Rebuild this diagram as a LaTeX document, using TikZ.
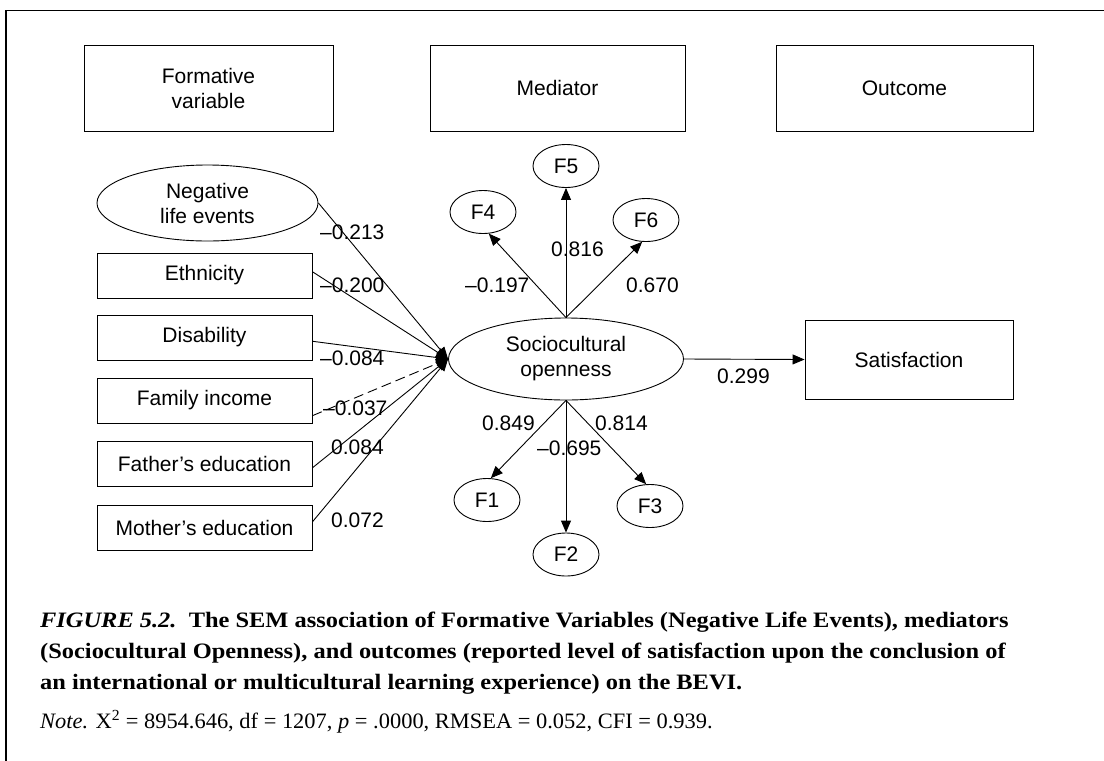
\documentclass[tikz,border=0pt]{standalone}
\usepackage{fontspec}
\setmainfont{Liberation Serif}[FakeStretch=1.02]
\newfontfamily\boldcap{Liberation Serif}[FakeStretch=1.11]
\newfontfamily\diagfont{Liberation Sans}
\usetikzlibrary{shapes.geometric,arrows.meta,calc}
\begin{document}
\begin{tikzpicture}[x=1pt,y=-1pt,
  dfont/.style={font=\diagfont\fontsize{21}{25}\selectfont},
  lbl/.style={dfont, inner sep=0, anchor=west},
  box/.style={draw, line width=0.9pt, inner sep=0, dfont, align=center},
  ell/.style={draw, ellipse, line width=0.9pt, inner sep=0, dfont, align=center},
  fell/.style={ell, minimum width=66, minimum height=43},
  arr/.style={line width=0.9pt, -{Triangle[length=12pt,width=10pt]}},
  captxt/.style={inner sep=0, anchor=base west, font=\fontsize{22}{26}\selectfont},
  boldtxt/.style={captxt, font=\boldcap\fontsize{22}{26}\selectfont\bfseries},
  ]
\useasboundingbox (0,0) rectangle (1104,761);
% frame
\draw[line width=1.5pt] (6,761) -- (6,10.5) -- (1104,10.5);
% header boxes
\node[box, minimum width=249, minimum height=86] (hform) at (208.5,88) {Formative\\variable};
\node[box, minimum width=255, minimum height=86] (hmed) at (557.5,88) {Mediator};
\node[box, minimum width=257, minimum height=86] (hout) at (904.5,88) {Outcome};
% formative variables
\node[ell, minimum width=221, minimum height=76] (neg) at (207.5,203) {Negative\\life events};
\node[box, minimum width=215, minimum height=45] (eth) at (204.5,275.5) {Ethnicity};
\node[box, minimum width=215, minimum height=45] (dis) at (204.5,337.5) {Disability};
\node[box, minimum width=215, minimum height=45] (fi) at (204.5,400.5) {Family income};
\node[box, minimum width=215, minimum height=45] (fe) at (204.5,464) {Father’s education};
\node[box, minimum width=215, minimum height=45] (me) at (204.5,527.5) {Mother’s education};
% mediator
\node[ell, minimum width=235, minimum height=82] (soc) at (566,359) {Sociocultural\\openness};
% outcome
\node[box, minimum width=208, minimum height=79] (sat) at (909,359.5) {Satisfaction};
% factors
\node[fell] (f4) at (483,212) {F4};
\node[fell] (f5) at (566,166) {F5};
\node[fell] (f6) at (646,220) {F6};
\node[fell] (f1) at (487,500) {F1};
\node[fell] (f2) at (566,554.5) {F2};
\node[fell] (f3) at (650,506) {F3};
% paths into mediator
\draw[arr] (neg.east) -- (soc.west);
\draw[arr] (eth.2) -- (soc.west);
\draw[arr] (dis.-2) -- (soc.west);
\draw[arr, dash pattern=on 10pt off 5pt] (fi.-8) -- (soc.west);
\draw[arr] (fe.-2) -- (soc.west);
\draw[arr] (me.3) -- (soc.west);
% loadings
\draw[arr] (soc.north) -- (f4.-75);
\draw[arr] (soc.north) -- (f5.south);
\draw[arr] (soc.north) -- (f6.-100);
\draw[arr] (soc.south) -- (f1.80);
\draw[arr] (soc.south) -- (f2.north);
\draw[arr] (soc.south) -- (f3.100);
\draw[arr] (soc.east) -- (sat.west);
% labels
\node[lbl] (l1) at (320,232) {–0.213};
\node[lbl] (l2) at (320,285) {–0.200};
\node[lbl] (l3) at (320,358) {–0.084};
\node[lbl] (l4) at (323,408) {–0.037};
\node[lbl] (l5) at (331,447) {0.084};
\node[lbl] (l6) at (331,520) {0.072};
\node[lbl] (l7) at (465,285) {–0.197};
\node[lbl] (l8) at (551,249) {0.816};
\node[lbl] (l9) at (626,285) {0.670};
\node[lbl] (l10) at (482,423) {0.849};
\node[lbl] (l11) at (537,448) {–0.695};
\node[lbl] (l12) at (595,423) {0.814};
\node[lbl] (l13) at (717,376) {0.299};
% caption
\node[boldtxt] (c1) at (40,627) {\itshape FIGURE 5.2.\upshape\ \ The SEM association of Formative Variables (Negative Life Events), mediators};
\node[boldtxt] (c2) at (40,658) {(Sociocultural Openness), and outcomes (reported level of satisfaction upon the conclusion of};
\node[boldtxt] (c3) at (40,689) {an international or multicultural learning experience) on the BEVI.};
\node[captxt] (c4) at (40,728) {\textit{Note.} X\textsuperscript{2} = 8954.646, df = 1207, \textit{p} = .0000, RMSEA = 0.052, CFI = 0.939.};
\end{tikzpicture}
\end{document}
